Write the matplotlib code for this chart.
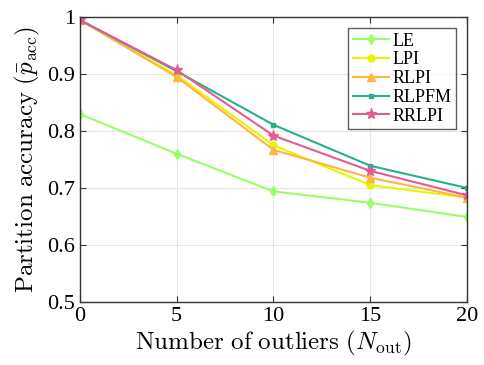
import matplotlib
matplotlib.use("Agg")
import matplotlib.pyplot as plt

plt.rcParams['font.family'] = ['Liberation Serif', 'DejaVu Serif']
plt.rcParams['mathtext.fontset'] = 'cm'

n_out = [0, 5, 10, 15, 20]
le = [0.830, 0.760, 0.694, 0.674, 0.649]
lpi = [0.995, 0.898, 0.775, 0.705, 0.683]
rlpi = [0.995, 0.895, 0.767, 0.718, 0.683]
rlpfm = [0.995, 0.905, 0.811, 0.739, 0.700]
rrlpi = [0.995, 0.907, 0.792, 0.730, 0.687]

fig = plt.figure(figsize=(4.84, 3.65), dpi=100)
ax = fig.add_axes([0.165, 0.173, 0.800, 0.780])

ax.plot(n_out, le, color='#99FF66', marker='d', ms=5, lw=1.5, label='LE')
ax.plot(n_out, lpi, color='#E8F500', marker='o', ms=5, lw=1.5, label='LPI')
ax.plot(n_out, rlpi, color='#FFB640', marker='^', ms=6, lw=1.5, label='RLPI')
ax.plot(n_out, rlpfm, color='#25B08E', marker='s', ms=3, lw=1.5, label='RLPFM')
ax.plot(n_out, rrlpi, color='#E55C92', marker='*', ms=8, lw=1.5, label='RRLPI')

ax.set_xlim(0, 20)
ax.set_ylim(0.5, 1.0)
ax.set_xticks([0, 5, 10, 15, 20])
ax.set_yticks([0.5, 0.6, 0.7, 0.8, 0.9, 1.0])
ax.set_yticklabels(['0.5', '0.6', '0.7', '0.8', '0.9', '1'])
ax.grid(True, color='#E6E6E6', lw=0.8)
ax.set_axisbelow(True)
ax.tick_params(direction='in', top=True, right=True, labelsize=16, length=4, color='#333333')
for s in ax.spines.values():
    s.set_color('#333333')
    s.set_linewidth(1.0)

ax.set_xlabel(r'$\mathrm{Number\ of\ outliers}\ (N_{\mathrm{out}})$', fontsize=18, labelpad=2)
ax.set_ylabel(r'$\mathrm{Partition\ accuracy}\ (\bar{p}_{\mathrm{acc}})$', fontsize=18, labelpad=4)

leg = ax.legend(loc='upper right', fontsize=13, fancybox=False, edgecolor='#333333',
                handlelength=2.0, handletextpad=0.2, borderpad=0.25, labelspacing=0.1,
                borderaxespad=0.6)
leg.get_frame().set_linewidth(1.0)

fig.savefig('out.png', dpi=100)
